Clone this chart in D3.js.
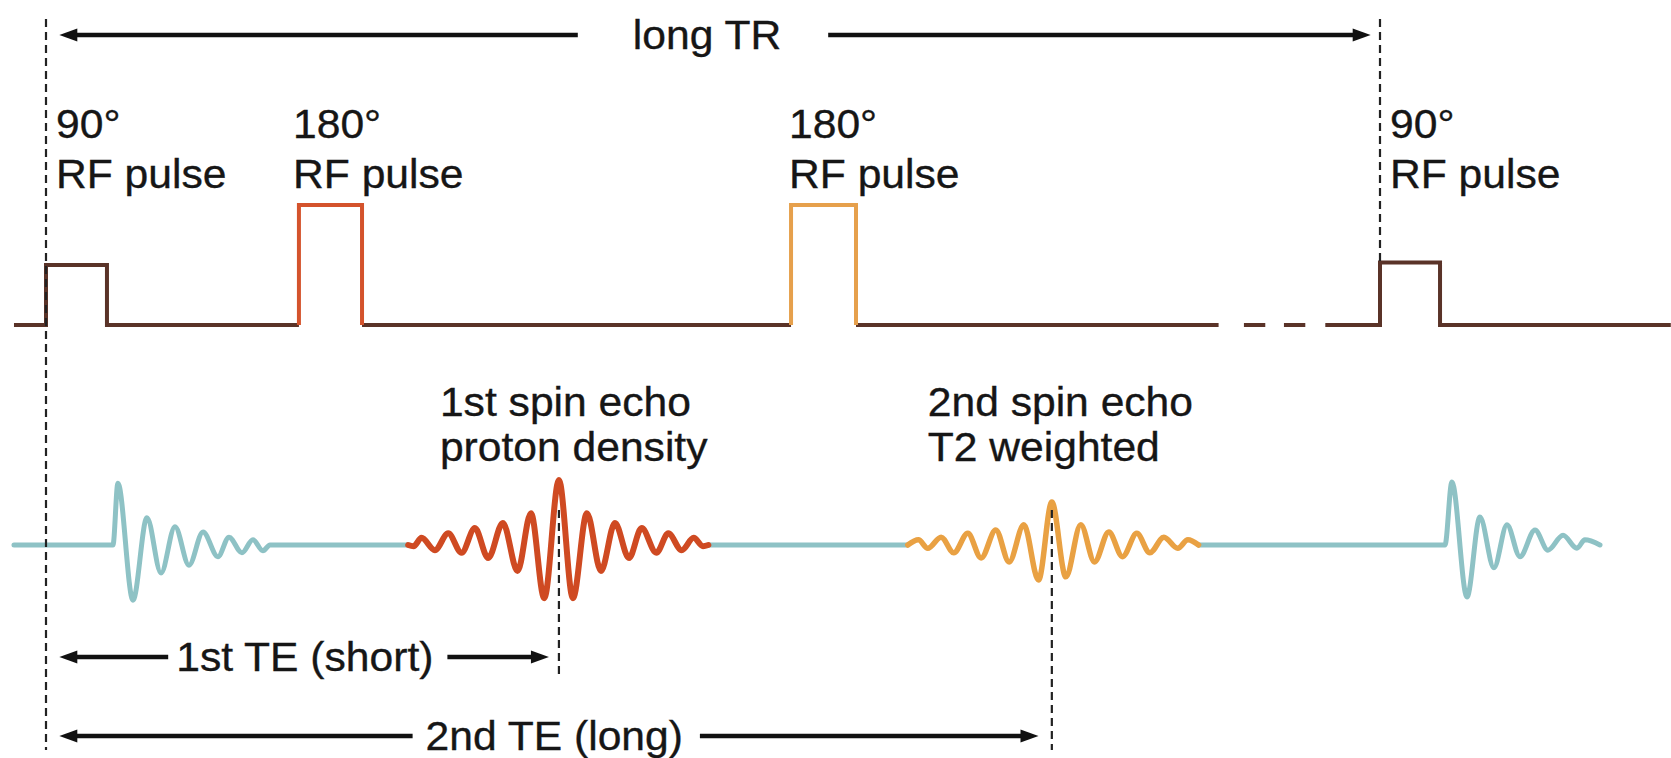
<!DOCTYPE html>
<html>
<head>
<meta charset="utf-8">
<script src="https://cdn.jsdelivr.net/npm/d3@7"></script>
<style>
  html, body { margin: 0; padding: 0; background: #ffffff; }
  svg { display: block; }
  text { font-family: "Liberation Sans", Arial, Helvetica, sans-serif; font-size: 40px; fill: #161616; stroke: #161616; stroke-width: 0.35px; }
</style>
</head>
<body>
<svg id="chart" width="1671" height="758"></svg>
<script>
// ================= DATA (time in ms along the sequence, TR = 1000) =================
const rfPulseNames = ["90°", "180°", "180°", "90°"];
const rfLabelLine2 = "RF pulse";
const rfPulseStart = [0, 189.6, 558.5, 1000];
const rfPulseEnd   = [45.7, 236.9, 607.2, 1045];
const rfPulseAmp   = [0.50, 1.00, 1.00, 0.52];
const rfLabelAt    = [7.5, 185.2, 557, 1007.5];
const rfLineRange  = [-24, 1218];
const rfLineGaps   = [[879, 898], [914, 928], [944, 959]];

const signalStart = -24;
const fid1Start  = 50.2;
const fid1Offset = [0, 3.7, 15.0, 25.5, 36.0, 46.5, 57.0, 67.5, 78.7, 87.0, 96.7, 104.9, 112.4, 117.7];
const fid1Amp    = [0, 0.95, -0.85, 0.42, -0.43, 0.28, -0.31, 0.20, -0.18, 0.12, -0.12, 0.08, -0.09, 0];

const fid2Start  = 1048.7;
const fid2Offset = [0, 5.2, 16.5, 26.2, 36.7, 46.5, 56.2, 67.5, 77.2, 88.5, 98.9, 104.9, 116.2];
const fid2Amp    = [0, 0.97, -0.80, 0.43, -0.35, 0.31, -0.18, 0.23, -0.08, 0.15, -0.05, 0.08, 0];

const echo1Center = 384.5;
const echo1Offset = [-113, -109, -103, -93, -83, -73, -63, -53, -42, -31, -21, -11, 0, 10.5, 21, 31.5, 42, 52.5, 62, 73, 82, 92, 101, 108, 112];
const echo1Amp    = [0, -0.02, 0.11, -0.08, 0.18, -0.12, 0.26, -0.20, 0.34, -0.40, 0.49, -0.82, 1.00, -0.82, 0.49, -0.40, 0.34, -0.20, 0.26, -0.12, 0.18, -0.08, 0.11, -0.02, 0];

const echo2Center = 754;
const echo2Offset = [-108, -100, -93, -83, -73.5, -63, -53, -42, -32, -21, -10, 0, 10.5, 21.7, 32, 42.7, 53, 63.7, 73.5, 84, 94.4, 102, 110];
const echo2Amp    = [0, 0.08, -0.05, 0.12, -0.12, 0.18, -0.20, 0.23, -0.26, 0.31, -0.54, 0.66, -0.49, 0.31, -0.26, 0.20, -0.18, 0.18, -0.12, 0.12, -0.05, 0.08, 0];

const echoLabels  = [["1st spin echo", "proton density"], ["2nd spin echo", "T2 weighted"]];
const echoLabelAt = [295.3, 661];

const spanLabels  = ["long TR", "1st TE (short)", "2nd TE (long)"];
const spanFrom    = [10, 10, 10];
const spanTo      = [993, 377, 744];
const spanLabelAt = [495.5, 194, 381];

const guideAt = [0, 1000, 384.5, 754];

// ================= LAYOUT & STYLE =================
const svg = d3.select("#chart");
const x    = d3.scaleLinear().domain([0, 1000]).range([46, 1380]);
const rfY  = d3.scaleLinear().domain([0, 1]).range([325, 205]);
const sigY = d3.scaleLinear().domain([-1, 1]).range([610, 480]);

const textStretch = 1.065;
const rfBaseColor = "#5a3328";
const rfPulseColor = [rfBaseColor, "#d4532c", "#e6a04c", rfBaseColor];
const tealColor = "#8ec2c5";
const echoColor = ["#cf4a22", "#e9a143"];
const spanY = [35, 657, 736];
const spanPadL = [55, 8, 13];
const spanPadR = [47, 14, 17];
const guideY = [[19, 750], [19, rfY(rfPulseAmp[3])], [510, 676], [510, 750]];

function label(txt, px, py, anchor) {
  return svg.append("text")
    .attr("transform", `translate(${px},${py}) scale(${textStretch},1)`)
    .attr("text-anchor", anchor)
    .text(txt);
}

// ---------- RF line ----------
const items = [];
rfPulseStart.forEach((s, i) => items.push({ t: s, kind: rfPulseColor[i] === rfBaseColor ? "pulse" : "break", i }));
rfLineGaps.forEach(g => items.push({ t: g[0], kind: "gap", g }));
items.sort((a, b) => a.t - b.t);
const rfPts = [{ t: rfLineRange[0], a: 0 }];
items.forEach(it => {
  if (it.kind === "pulse") {
    const i = it.i;
    rfPts.push({ t: rfPulseStart[i], a: 0 }, { t: rfPulseStart[i], a: rfPulseAmp[i] },
               { t: rfPulseEnd[i], a: rfPulseAmp[i] }, { t: rfPulseEnd[i], a: 0 });
  } else if (it.kind === "break") {
    const i = it.i;
    rfPts.push({ t: rfPulseStart[i], a: 0 }, null, { t: rfPulseEnd[i], a: 0 });
  } else {
    rfPts.push({ t: it.g[0], a: 0 }, null, { t: it.g[1], a: 0 });
  }
});
rfPts.push({ t: rfLineRange[1], a: 0 });

const rfLine = d3.line().defined(d => d !== null).x(d => x(d.t)).y(d => rfY(d.a));
svg.append("path").attr("d", rfLine(rfPts))
  .attr("fill", "none").attr("stroke", rfBaseColor).attr("stroke-width", 4)
  .attr("stroke-linejoin", "miter");

rfPulseStart.forEach((s, i) => {
  if (rfPulseColor[i] === rfBaseColor) return;
  const c = [{ t: s, a: 0 }, { t: s, a: rfPulseAmp[i] }, { t: rfPulseEnd[i], a: rfPulseAmp[i] }, { t: rfPulseEnd[i], a: 0 }];
  svg.append("path").attr("d", rfLine(c))
    .attr("fill", "none").attr("stroke", rfPulseColor[i]).attr("stroke-width", 4);
});

// ---------- Signal line ----------
const sigLine = d3.line().defined(d => d !== null).x(d => x(d.t)).y(d => sigY(d.a)).curve(d3.curveMonotoneX);
const teal = [{ t: signalStart, a: 0 }];
fid1Offset.forEach((o, k) => teal.push({ t: fid1Start + o, a: fid1Amp[k] }));
teal.push({ t: echo1Center + echo1Offset[0], a: 0 }, null);
teal.push({ t: echo1Center + echo1Offset[echo1Offset.length - 1], a: 0 });
teal.push({ t: echo2Center + echo2Offset[0], a: 0 }, null);
teal.push({ t: echo2Center + echo2Offset[echo2Offset.length - 1], a: 0 });
fid2Offset.forEach((o, k) => teal.push({ t: fid2Start + o, a: fid2Amp[k] }));

svg.append("path").attr("d", sigLine(teal))
  .attr("fill", "none").attr("stroke", tealColor).attr("stroke-width", 5)
  .attr("stroke-linejoin", "round").attr("stroke-linecap", "round");

[[echo1Center, echo1Offset, echo1Amp], [echo2Center, echo2Offset, echo2Amp]].forEach((e, j) => {
  const pts = e[1].map((o, k) => ({ t: e[0] + o, a: e[2][k] }));
  svg.append("path").attr("d", sigLine(pts))
    .attr("fill", "none").attr("stroke", echoColor[j]).attr("stroke-width", j === 0 ? 6 : 5.5)
    .attr("stroke-linejoin", "round").attr("stroke-linecap", "round");
});

// ---------- Guides ----------
svg.append("g").selectAll("line").data(guideAt).join("line")
  .attr("x1", d => x(d)).attr("x2", d => x(d))
  .attr("y1", (d, i) => guideY[i][0]).attr("y2", (d, i) => guideY[i][1])
  .attr("stroke", "#222").attr("stroke-width", 2.2).attr("stroke-dasharray", "8,5");

// ---------- Labels ----------
rfPulseNames.forEach((n, i) => {
  label(n, x(rfLabelAt[i]), 138, "start");
  label(rfLabelLine2, x(rfLabelAt[i]), 188, "start");
});
echoLabels.forEach((lines, i) => {
  label(lines[0], x(echoLabelAt[i]), 416, "start");
  label(lines[1], x(echoLabelAt[i]), 461, "start");
});

// ---------- Span arrows ----------
const headLen = 18, headHW = 6.5;
spanLabels.forEach((s, i) => {
  const y = spanY[i];
  const cx = x(spanLabelAt[i]);
  const t = label(s, cx, y + 14, "middle");
  const w = t.node().getComputedTextLength() * textStretch;
  const l0 = x(spanFrom[i]), r0 = x(spanTo[i]);
  const g = svg.append("g").attr("fill", "#111").attr("stroke", "#111");
  g.append("line").attr("x1", l0 + headLen - 3).attr("x2", cx - w / 2 - spanPadL[i])
    .attr("y1", y).attr("y2", y).attr("stroke-width", 4.5);
  g.append("line").attr("x1", cx + w / 2 + spanPadR[i]).attr("x2", r0 - headLen + 3)
    .attr("y1", y).attr("y2", y).attr("stroke-width", 4.5);
  g.append("path").attr("stroke", "none")
    .attr("d", `M${l0},${y} L${l0 + headLen},${y - headHW} L${l0 + headLen},${y + headHW} Z`);
  g.append("path").attr("stroke", "none")
    .attr("d", `M${r0},${y} L${r0 - headLen},${y - headHW} L${r0 - headLen},${y + headHW} Z`);
});
</script>
</body>
</html>
